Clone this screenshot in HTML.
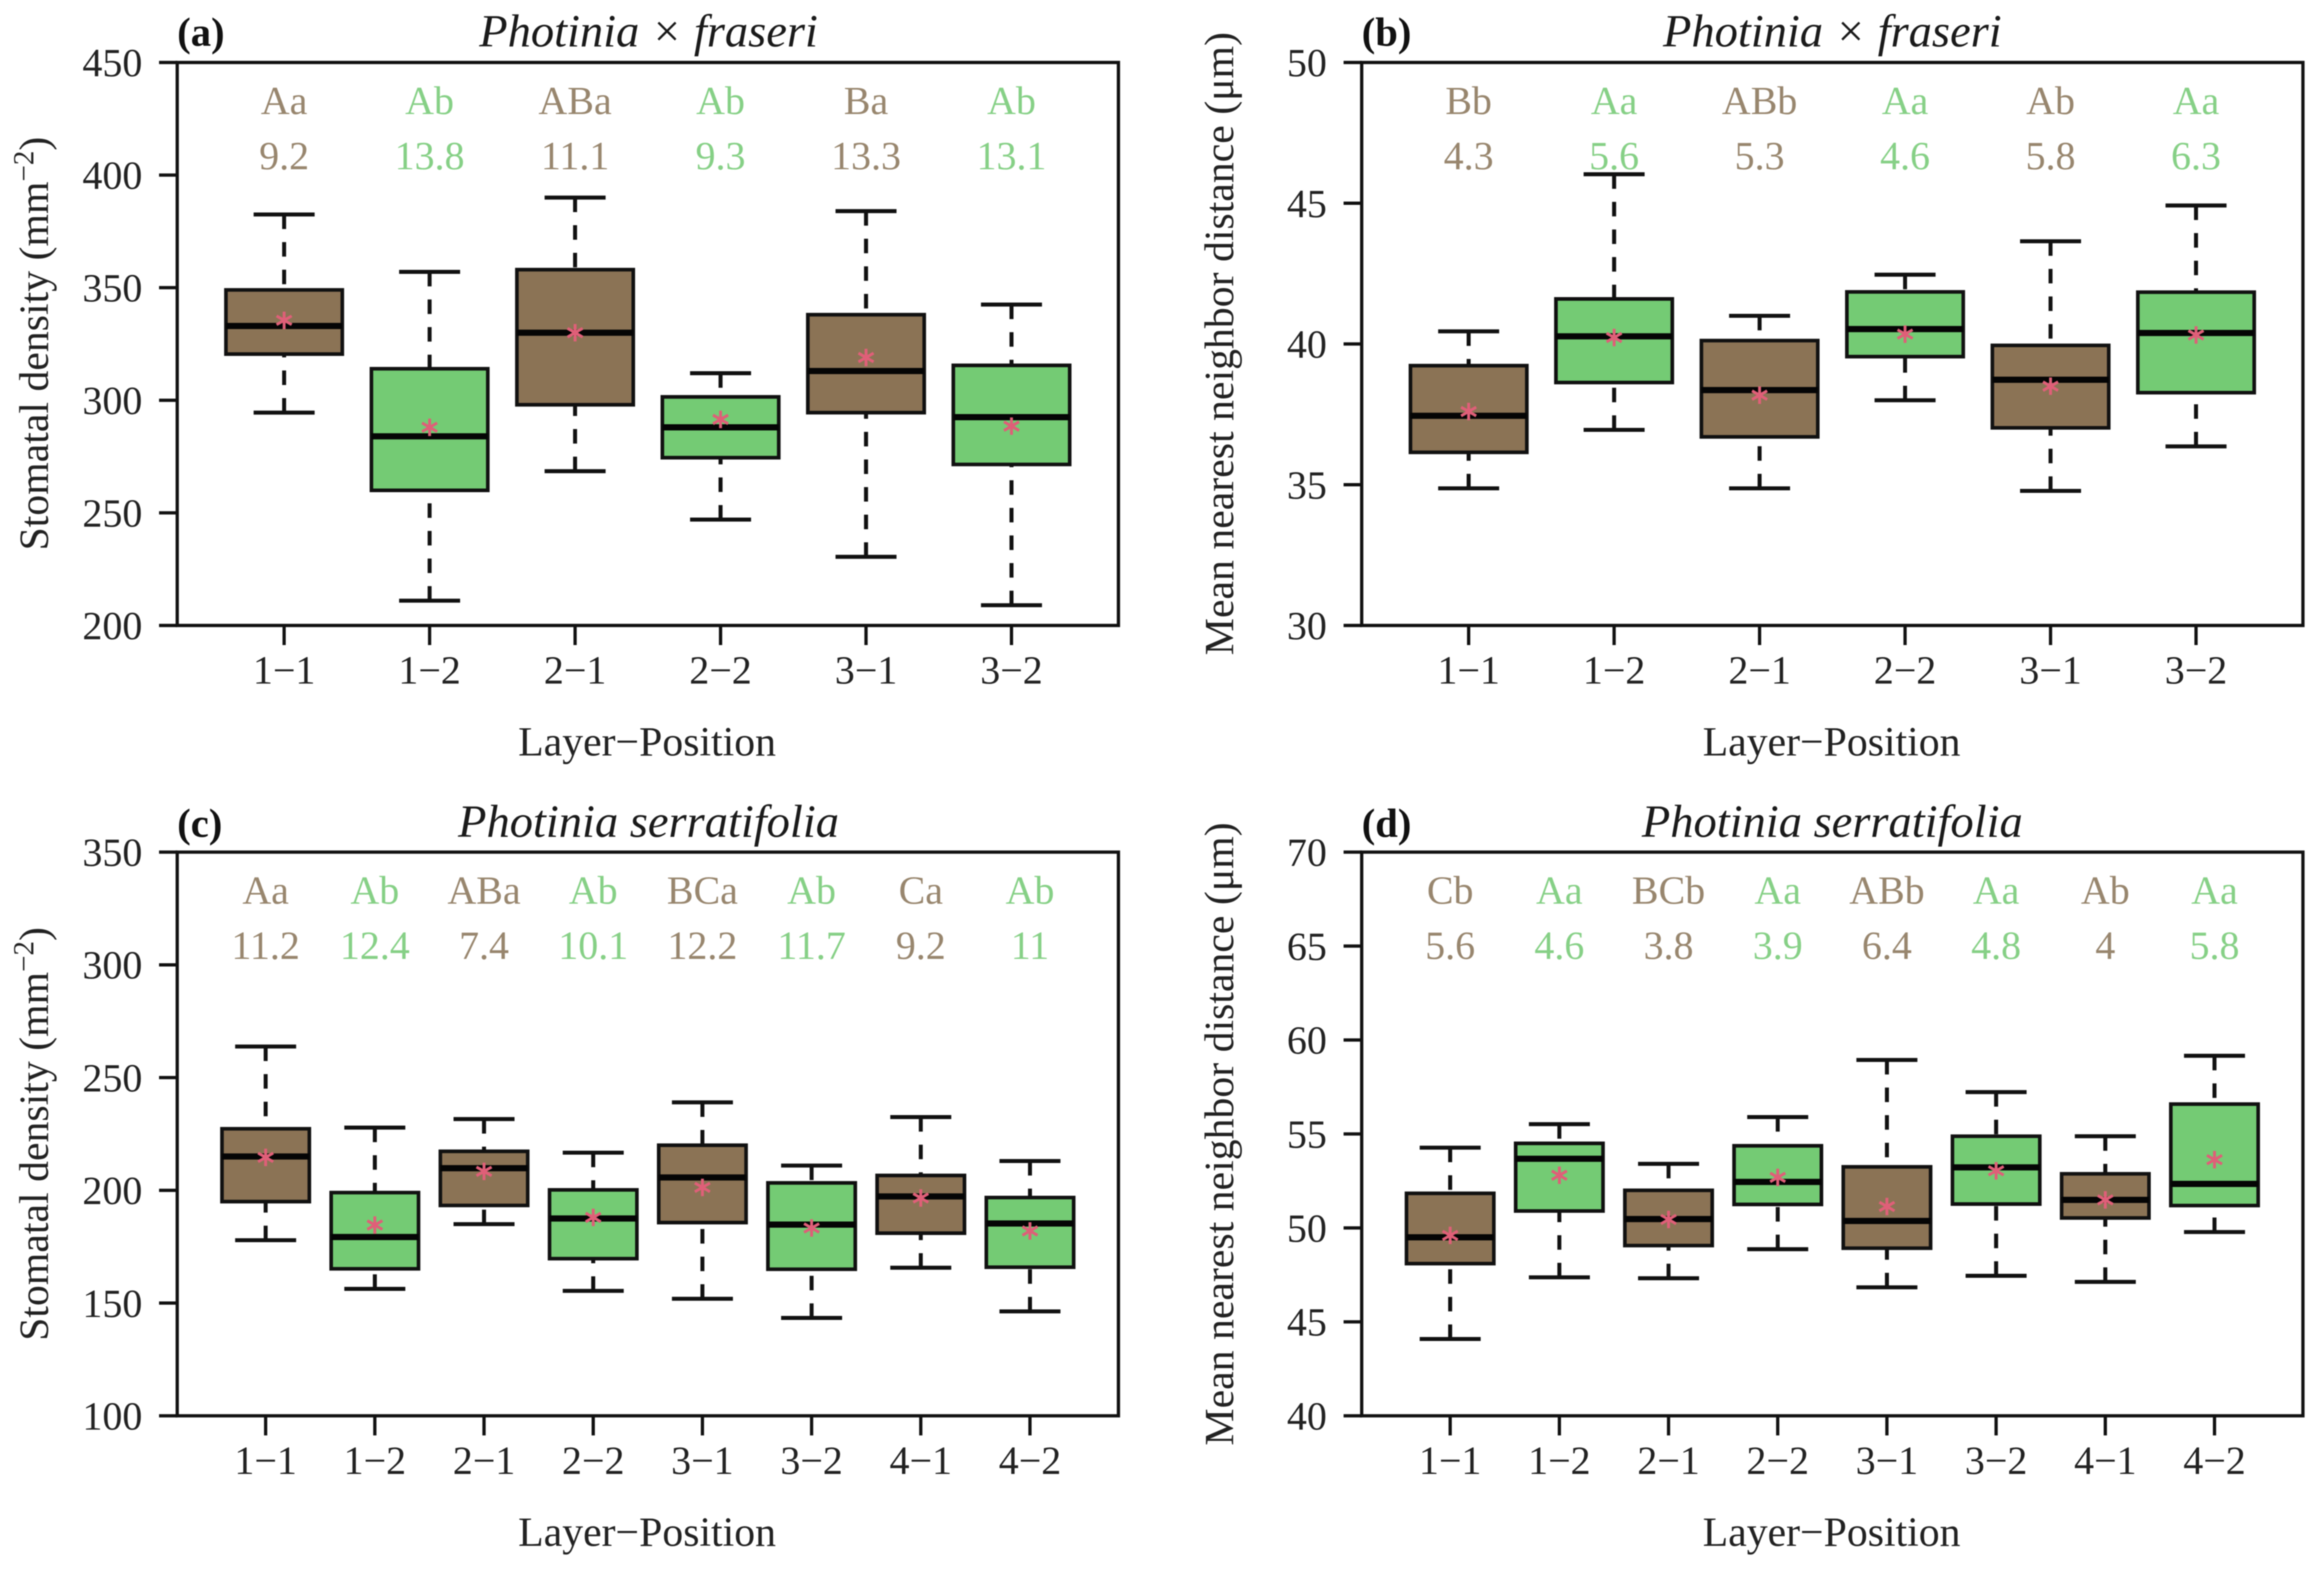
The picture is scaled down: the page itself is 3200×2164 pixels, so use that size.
<!DOCTYPE html>
<html lang="en">
<head>
<meta charset="utf-8">
<title>Stomatal density and mean nearest neighbor distance boxplots</title>
<style>
html,body{margin:0;padding:0;background:#fff;}
#figure{display:block;width:3200px;height:2164px;filter:blur(0.9px);font-family:"Liberation Serif",serif;}
.tick{font-size:55px;fill:#222;}
.axis-title{font-size:57.5px;fill:#222;}
.panel-title{font-size:64px;font-style:italic;fill:#1a1a1a;}
.panel-tag{font-size:56px;font-weight:bold;fill:#111;}
.anno{font-size:55px;}
</style>
</head>
<body>
<svg id="figure" xmlns="http://www.w3.org/2000/svg" width="3200" height="2164" viewBox="0 0 3200 2164">
  <rect x="0" y="0" width="3200" height="2164" fill="#fff"/>

  <g id="panel-a">
    <text class="panel-tag" x="244" y="63">(a)</text>
    <text class="panel-title" x="893" y="64" text-anchor="middle">Photinia × fraseri</text>
    <text class="axis-title" transform="translate(66,473) rotate(-90)" text-anchor="middle">Stomatal density (mm<tspan font-size="40" dy="-20">−2</tspan><tspan dy="20">)</tspan></text>
    <text class="axis-title" x="891" y="1040" text-anchor="middle">Layer−Position</text>
  </g>
  <g id="panel-b">
    <text class="panel-tag" x="1875" y="63">(b)</text>
    <text class="panel-title" x="2523" y="64" text-anchor="middle">Photinia × fraseri</text>
    <text class="axis-title" transform="translate(1698,473) rotate(-90)" text-anchor="middle">Mean nearest neighbor distance (μm)</text>
    <text class="axis-title" x="2522" y="1040" text-anchor="middle">Layer−Position</text>
  </g>
  <g id="panel-c">
    <text class="panel-tag" x="244" y="1152">(c)</text>
    <text class="panel-title" x="893" y="1152" text-anchor="middle">Photinia serratifolia</text>
    <text class="axis-title" transform="translate(66,1561) rotate(-90)" text-anchor="middle">Stomatal density (mm<tspan font-size="40" dy="-20">−2</tspan><tspan dy="20">)</tspan></text>
    <text class="axis-title" x="891" y="2128" text-anchor="middle">Layer−Position</text>
  </g>
  <g id="panel-d">
    <text class="panel-tag" x="1875" y="1152">(d)</text>
    <text class="panel-title" x="2523" y="1152" text-anchor="middle">Photinia serratifolia</text>
    <text class="axis-title" transform="translate(1698,1561) rotate(-90)" text-anchor="middle">Mean nearest neighbor distance (μm)</text>
    <text class="axis-title" x="2522" y="2128" text-anchor="middle">Layer−Position</text>
  </g>
</svg>

<script>
// ---- Panel (a) ----
const aCategories = ['1−1','1−2','2−1','2−2','3−1','3−2'];
const aYTicks = [200,250,300,350,400,450];
const aWhiskerHigh = [382.5,357,390,312,384,342.5];
const aQ3 = [349,314,358,301.5,338,315.5];
const aMedian = [333,284,330,288,313,292.5];
const aQ1 = [320.5,260,298,274.5,294.5,271.5];
const aWhiskerLow = [294.5,211,268.5,247,230.5,209];
const aMean = [335.5,288,330,291.5,319,288.5];
const aLetters = ['Aa','Ab','ABa','Ab','Ba','Ab'];
const aPrinted = ['9.2','13.8','11.1','9.3','13.3','13.1'];

// ---- Panel (b) ----
const bCategories = ['1−1','1−2','2−1','2−2','3−1','3−2'];
const bYTicks = [30,35,40,45,50];
const bWhiskerHigh = [40.45,46.03,41,42.46,43.65,44.92];
const bQ3 = [39.23,41.6,40.12,41.85,39.95,41.84];
const bMedian = [37.45,40.27,38.36,40.53,38.73,40.39];
const bQ1 = [36.15,38.63,36.7,39.55,37.02,38.27];
const bWhiskerLow = [34.87,36.95,34.87,38,34.78,36.36];
const bMean = [37.6,40.23,38.18,40.35,38.5,40.32];
const bLetters = ['Bb','Aa','ABb','Aa','Ab','Aa'];
const bPrinted = ['4.3','5.6','5.3','4.6','5.8','6.3'];

// ---- Panel (c) ----
const cCategories = ['1−1','1−2','2−1','2−2','3−1','3−2','4−1','4−2'];
const cYTicks = [100,150,200,250,300,350];
const cWhiskerHigh = [263.8,227.8,231.6,216.7,239,211,232.5,213];
const cQ3 = [227.3,199,217.3,200.2,220,203.3,206.6,196.8];
const cMedian = [215,179.3,209.8,187.5,205.7,184.8,197.3,185.3];
const cQ1 = [195,165.2,193.3,169.7,185.7,165,181,165.9];
const cWhiskerLow = [177.9,156.3,185,155.4,151.9,143.4,165.7,146.3];
const cMean = [214.6,184.6,208.4,188,201.3,183.3,196.6,182];
const cLetters = ['Aa','Ab','ABa','Ab','BCa','Ab','Ca','Ab'];
const cPrinted = ['11.2','12.4','7.4','10.1','12.2','11.7','9.2','11'];

// ---- Panel (d) ----
const dCategories = ['1−1','1−2','2−1','2−2','3−1','3−2','4−1','4−2'];
const dYTicks = [40,45,50,55,60,65,70];
const dWhiskerHigh = [54.27,55.52,53.41,55.9,58.94,57.23,54.88,59.16];
const dQ3 = [51.84,54.5,52,54.37,53.25,54.88,52.88,56.59];
const dMedian = [49.5,53.68,50.47,52.45,50.37,53.22,51.49,52.34];
const dQ1 = [48.1,50.9,49.06,51.25,48.92,51.27,50.53,51.19];
const dWhiskerLow = [44.09,47.37,47.32,48.87,46.84,47.45,47.13,49.78];
const dMean = [49.6,52.8,50.45,52.69,51.14,53.04,51.49,53.63];
const dLetters = ['Cb','Aa','BCb','Aa','ABb','Aa','Ab','Aa'];
const dPrinted = ['5.6','4.6','3.8','3.9','6.4','4.8','4','5.8'];

const SVGNS = 'http://www.w3.org/2000/svg';
const BROWN = '#8b7355';
const GREEN = '#74cb74';
const BROWN_TEXT = '#98866e';
const GREEN_TEXT = '#86d086';
const INK = '#111';
const STAR = '#df5f78';

function shape(parent, tag, props, text) {
  const node = document.createElementNS(SVGNS, tag);
  for (const key in props) node.setAttribute(key, props[key]);
  if (text !== undefined) node.textContent = text;
  parent.appendChild(node);
  return node;
}

function drawPanel(id, frame, yMin, yMax, xMargin, categories, yTicks, high, q3, med, q1, low, mean, letters, printed) {
  const g = document.getElementById(id);
  const unit = (frame.right - frame.left) / (categories.length - 1 + 2 * xMargin);
  const xScale = i => frame.left + (xMargin + i) * unit;
  const yScale = v => frame.bottom - (v - yMin) / (yMax - yMin) * (frame.bottom - frame.top);
  const boxHalf = 0.4 * unit;
  const capHalf = 42;
  const fillFor = i => (i % 2 === 0 ? BROWN : GREEN);
  const inkFor = i => (i % 2 === 0 ? BROWN_TEXT : GREEN_TEXT);

  // y axis ticks
  yTicks.forEach(t => {
    const tickMark = shape(g, 'line', {x1: frame.left - 25, x2: frame.left, y1: yScale(t), y2: yScale(t), stroke: INK, 'stroke-width': 4.5});
    
    
    const tickLabel = shape(g, 'text', {class: 'tick', x: frame.left - 48, y: yScale(t) + 19, 'text-anchor': 'end'}, String(t));
    
    
  });

  categories.forEach((cat, i) => {
    const x = xScale(i);

    // x axis tick and label
    const xTick = shape(g, 'line', {x1: x, x2: x, y1: frame.bottom, y2: frame.bottom + 27, stroke: INK, 'stroke-width': 4.5});
    
    
    const xLabel = shape(g, 'text', {class: 'tick', x: x, y: frame.bottom + 80, 'text-anchor': 'middle'}, cat);
    
    

    // whiskers run from the cap toward the box, dashed
    const upper = shape(g, 'line', {x1: x, x2: x, y1: yScale(high[i]), y2: yScale(q3[i]), stroke: INK, 'stroke-width': 5.5, 'stroke-dasharray': '20 18'});
    
    
    const lower = shape(g, 'line', {x1: x, x2: x, y1: yScale(low[i]), y2: yScale(q1[i]), stroke: INK, 'stroke-width': 5.5, 'stroke-dasharray': '20 18'});
    
    
    const capHigh = shape(g, 'line', {x1: x - capHalf, x2: x + capHalf, y1: yScale(high[i]), y2: yScale(high[i]), stroke: INK, 'stroke-width': 5.5});
    
    
    const capLow = shape(g, 'line', {x1: x - capHalf, x2: x + capHalf, y1: yScale(low[i]), y2: yScale(low[i]), stroke: INK, 'stroke-width': 5.5});
    
    

    // interquartile box
    const box = shape(g, 'rect', {x: x - boxHalf, y: yScale(q3[i]), width: 2 * boxHalf, height: yScale(q1[i]) - yScale(q3[i]), fill: fillFor(i), stroke: INK, 'stroke-width': 5});
    
    

    // median
    const medianLine = shape(g, 'line', {x1: x - boxHalf, x2: x + boxHalf, y1: yScale(med[i]), y2: yScale(med[i]), stroke: '#050505', 'stroke-width': 8.5});
    
    

    // mean marker (six-armed star)
    const my = yScale(mean[i]);
    const r = 12, dx = r * 0.866, dy = r * 0.5;
    const marker = shape(g, 'path', {d: `M${x} ${my - r}V${my + r}M${x - dx} ${my - dy}L${x + dx} ${my + dy}M${x - dx} ${my + dy}L${x + dx} ${my - dy}`, stroke: STAR, 'stroke-width': 4, fill: 'none'});
    
    

    // significance letters and printed value
    const letter = shape(g, 'text', {class: 'anno', x: x, y: frame.top + 71, 'text-anchor': 'middle', fill: inkFor(i)}, letters[i]);
    
    
    const value = shape(g, 'text', {class: 'anno', x: x, y: frame.top + 147, 'text-anchor': 'middle', fill: inkFor(i)}, printed[i]);
    
    
  });

  // plot frame, on top of the ticks
  const border = shape(g, 'rect', {x: frame.left, y: frame.top, width: frame.right - frame.left, height: frame.bottom - frame.top, fill: 'none', stroke: INK, 'stroke-width': 4.5});
  
  
}

drawPanel('panel-a', {left: 244, right: 1540, top: 86, bottom: 861}, 200, 450, 0.735, aCategories, aYTicks, aWhiskerHigh, aQ3, aMedian, aQ1, aWhiskerLow, aMean, aLetters, aPrinted);
drawPanel('panel-b', {left: 1875, right: 3171, top: 86, bottom: 861}, 30, 50, 0.735, bCategories, bYTicks, bWhiskerHigh, bQ3, bMedian, bQ1, bWhiskerLow, bMean, bLetters, bPrinted);
drawPanel('panel-c', {left: 244, right: 1540, top: 1173, bottom: 1949}, 100, 350, 0.81, cCategories, cYTicks, cWhiskerHigh, cQ3, cMedian, cQ1, cWhiskerLow, cMean, cLetters, cPrinted);
drawPanel('panel-d', {left: 1875, right: 3171, top: 1173, bottom: 1949}, 40, 70, 0.81, dCategories, dYTicks, dWhiskerHigh, dQ3, dMedian, dQ1, dWhiskerLow, dMean, dLetters, dPrinted);
</script>
</body>
</html>
